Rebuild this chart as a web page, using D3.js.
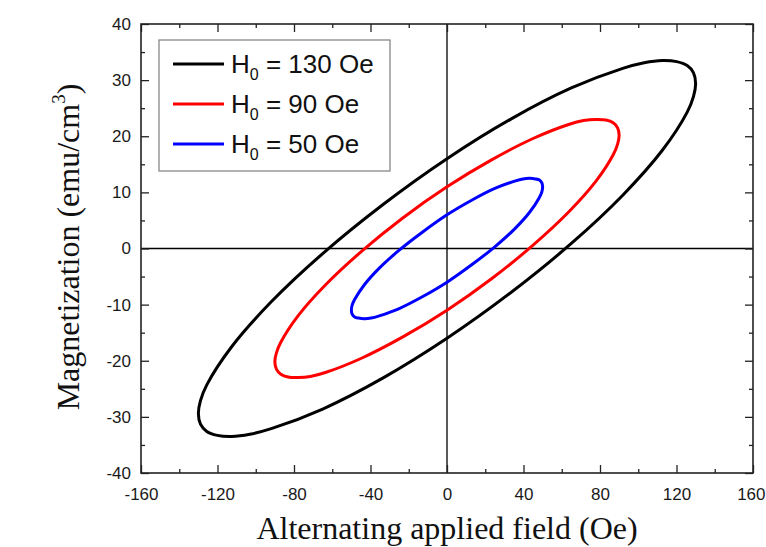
<!DOCTYPE html>
<html><head><meta charset="utf-8">
<script src="https://cdn.jsdelivr.net/npm/d3@7"></script>
<style>body{margin:0;background:#fff}svg{display:block}</style>
</head><body>
<script>
// Data: [H (Oe), M (emu/cm^3)] around each loop
const loop130 = [[130,29.4],[128.9,31.3],[125.6,32.6],[120.1,33.3],[112.6,33.5],[103.1,33.1],[91.9,32.1],[65,28.6],[33.6,23.1],[0,16.0],[-33.6,7.8],[-65,-0.9],[-91.9,-9.5],[-112.6,-17.5],[-125.6,-24.3],[-128.9,-27.1],[-130,-29.4],[-128.9,-31.3],[-125.6,-32.6],[-120.1,-33.3],[-112.6,-33.5],[-103.1,-33.1],[-91.9,-32.1],[-65,-28.6],[-33.6,-23.1],[0,-16.0],[33.6,-7.8],[65,0.9],[91.9,9.5],[112.6,17.5],[125.6,24.3],[128.9,27.1]];
const loop90 = [[90,20.2],[89.2,21.5],[86.9,22.4],[83.1,22.9],[77.9,23.0],[71.4,22.8],[63.6,22.1],[45,19.6],[23.3,15.8],[0,11.0],[-23.3,5.4],[-45,-0.6],[-63.6,-6.5],[-77.9,-12.0],[-86.9,-16.7],[-89.2,-18.6],[-90,-20.2],[-89.2,-21.5],[-86.9,-22.4],[-83.1,-22.9],[-77.9,-23.0],[-71.4,-22.8],[-63.6,-22.1],[-45,-19.6],[-23.3,-15.8],[0,-11.0],[23.3,-5.4],[45,0.6],[63.6,6.5],[77.9,12.0],[86.9,16.7],[89.2,18.6]];
const loop50 = [[50,11.0],[49.6,11.7],[48.3,12.2],[46.2,12.4],[43.3,12.5],[39.7,12.4],[35.4,12.0],[25,10.7],[12.9,8.6],[0,6.0],[-12.9,2.9],[-25,-0.3],[-35.4,-3.5],[-43.3,-6.5],[-48.3,-9.1],[-49.6,-10.1],[-50,-11.0],[-49.6,-11.7],[-48.3,-12.2],[-46.2,-12.4],[-43.3,-12.5],[-39.7,-12.4],[-35.4,-12.0],[-25,-10.7],[-12.9,-8.6],[0,-6.0],[12.9,-2.9],[25,0.3],[35.4,3.5],[43.3,6.5],[48.3,9.1],[49.6,10.1]];
const seriesNames = ["130","90","50"];
const seriesColors = ["#000000","#ff0000","#0000ff"];
const xTicks = [-160,-120,-80,-40,0,40,80,120,160];
const yTicks = [-40,-30,-20,-10,0,10,20,30,40];
const xMinor = [-140,-100,-60,-20,20,60,100,140];
const yMinor = [-35,-25,-15,-5,5,15,25,35];

const W=766,H=547;
const svg=d3.select("body").append("svg").attr("width",W).attr("height",H);
const x=d3.scaleLinear().domain([-160,160]).range([141,753]);
const y=d3.scaleLinear().domain([-40,40]).range([473,24]);
const loops=[loop130,loop90,loop50];

// zero lines
svg.append("line").attr("x1",x(0)).attr("x2",x(0)).attr("y1",y(40)).attr("y2",y(-40)).attr("stroke","#000").attr("stroke-width",1.3);
svg.append("line").attr("x1",x(-160)).attr("x2",x(160)).attr("y1",y(0)).attr("y2",y(0)).attr("stroke","#000").attr("stroke-width",1.3);

// curves
const line=d3.line().x(d=>x(d[0])).y(d=>y(d[1])).curve(d3.curveCatmullRomClosed.alpha(0.5));
loops.forEach((l,i)=>{
  svg.append("path").attr("d",line(l)).attr("fill","none").attr("stroke",seriesColors[i]).attr("stroke-width",3);
});

// axes with inner ticks
const fmt=d=>String(d);
const axisStyle=g=>{g.select(".domain").remove();g.selectAll("line").attr("stroke","#222").attr("stroke-width",1.3);g.selectAll("text").attr("font-family","Liberation Sans, Arial, sans-serif").attr("font-size",17).attr("fill","#1a1a1a");};
const xb=svg.append("g").attr("transform",`translate(0,${y(-40)})`).call(d3.axisBottom(x).tickValues(xTicks).tickSizeInner(-8).tickSizeOuter(0).tickPadding(15).tickFormat(fmt)).call(axisStyle);
xb.selectAll(".tick").filter(d=>d===160).select("text").attr("text-anchor","end").attr("x",12);
svg.append("g").attr("transform",`translate(0,${y(-40)})`).call(d3.axisBottom(x).tickValues(xMinor).tickSize(-4).tickFormat("")).call(axisStyle);
svg.append("g").attr("transform",`translate(0,${y(40)})`).call(d3.axisTop(x).tickValues(xTicks).tickSize(-8).tickFormat("")).call(axisStyle);
svg.append("g").attr("transform",`translate(0,${y(40)})`).call(d3.axisTop(x).tickValues(xMinor).tickSize(-4).tickFormat("")).call(axisStyle);
svg.append("g").attr("transform",`translate(${x(-160)},0)`).call(d3.axisLeft(y).tickValues(yTicks).tickSizeInner(-8).tickSizeOuter(0).tickPadding(10).tickFormat(fmt)).call(axisStyle);
svg.append("g").attr("transform",`translate(${x(-160)},0)`).call(d3.axisLeft(y).tickValues(yMinor).tickSize(-4).tickFormat("")).call(axisStyle);
svg.append("g").attr("transform",`translate(${x(160)},0)`).call(d3.axisRight(y).tickValues(yTicks).tickSize(-8).tickFormat("")).call(axisStyle);
svg.append("g").attr("transform",`translate(${x(160)},0)`).call(d3.axisRight(y).tickValues(yMinor).tickSize(-4).tickFormat("")).call(axisStyle);

// frame
svg.append("rect").attr("x",x(-160)).attr("y",y(40)).attr("width",x(160)-x(-160)).attr("height",y(-40)-y(40)).attr("fill","none").attr("stroke","#222").attr("stroke-width",1.6);

// legend
const lg=svg.append("g");
lg.append("rect").attr("x",159).attr("y",40).attr("width",231).attr("height",131).attr("fill","#fff").attr("stroke","#888").attr("stroke-width",1.3);
seriesNames.forEach((n,i)=>{
  const yy=64+i*40;
  lg.append("line").attr("x1",173).attr("x2",224).attr("y1",yy).attr("y2",yy).attr("stroke",seriesColors[i]).attr("stroke-width",3);
  const t=lg.append("text").attr("x",231).attr("y",yy+9).attr("font-family","Liberation Sans, Arial, sans-serif").attr("font-size",26).attr("fill","#111");
  t.append("tspan").text("H");
  t.append("tspan").attr("font-size",16).attr("dy",7).text("0");
  t.append("tspan").attr("dy",-7).text(" = "+n+" Oe");
});

// axis titles
svg.append("text").attr("x",x(0)).attr("y",539).attr("text-anchor","middle").attr("font-family","Liberation Serif, Times New Roman, serif").attr("font-size",32).attr("fill","#111").text("Alternating applied field (Oe)");
const yt=svg.append("text").attr("transform",`translate(79,247) rotate(-90)`).attr("text-anchor","middle").attr("font-family","Liberation Serif, Times New Roman, serif").attr("font-size",32).attr("fill","#111");
yt.append("tspan").text("Magnetization (emu/cm");
yt.append("tspan").attr("font-size",19).attr("dy",-14).text("3");
yt.append("tspan").attr("dy",14).text(")");
</script>
</body></html>
